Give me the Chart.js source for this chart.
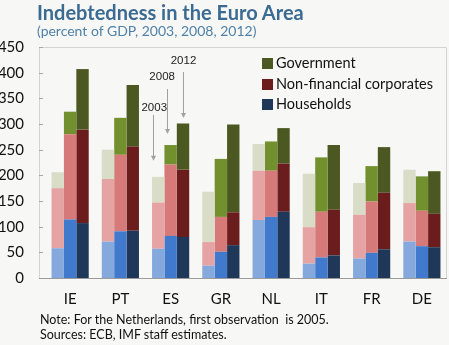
<!DOCTYPE html>
<html>
<head>
<meta charset="utf-8">
<script src="https://cdn.jsdelivr.net/npm/chart.js@4"></script>
<style>
  html, body { margin: 0; padding: 0; background: #f7f7f5; }
  #wrap { position: relative; width: 449px; height: 345px; overflow: hidden; font-family: Lato, "Liberation Sans", sans-serif; }
  #grafico { position: absolute; left: 0; top: 0; }
  .titulo { position: absolute; left: 37px; top: 0px; font-size: 20px; font-weight: bold; color: #3b6b92; white-space: nowrap; }
  .subtitulo { position: absolute; left: 37px; top: 22px; font-size: 14px; color: #4f81a8; white-space: nowrap; }
  .legenda { position: absolute; left: 262px; top: 53px; font-size: 14.5px; color: #111; }
  .legenda-item { height: 20.5px; line-height: 20px; white-space: nowrap; }
  .legenda-cor { display: inline-block; width: 11px; height: 11px; margin-right: 3px; vertical-align: -1px; }
  .nota { position: absolute; left: 40px; font-size: 12.5px; color: #111; white-space: pre; }
</style>
</head>
<body>
<div id="wrap">
  <canvas id="grafico" width="449" height="345"></canvas>
  <div class="titulo">Indebtedness in the Euro Area</div>
  <div class="subtitulo">(percent of GDP, 2003, 2008, 2012)</div>
  <div class="legenda" id="legenda"></div>
  <div class="nota" style="top:312px">Note: For the Netherlands, first observation  is 2005.</div>
  <div class="nota" style="top:327px">Sources: ECB, IMF staff estimates.</div>
</div>
<script>
// Dados
const categories = ['IE', 'PT', 'ES', 'GR', 'NL', 'IT', 'FR', 'DE'];
const years = ['2003', '2008', '2012'];
const series = ['Households', 'Non-financial corporates', 'Government'];

const hh2003 = [58, 71, 57, 24, 113, 28, 38, 71];
const nfc2003 = [117, 122, 90, 46, 96, 71, 85, 75];
const gov2003 = [31, 57, 50, 98, 52, 104, 62, 65];

const hh2008 = [114, 91, 82, 51, 119, 40, 49, 62];
const nfc2008 = [166, 149, 139, 68, 90, 89, 100, 69];
const gov2008 = [44, 72, 38, 113, 57, 106, 69, 67];

const hh2012 = [107, 92, 80, 64, 129, 44, 56, 60];
const nfc2012 = [182, 164, 131, 64, 94, 89, 110, 65];
const gov2012 = [118, 120, 90, 171, 69, 126, 89, 83];

const yTicks = [0, 50, 100, 150, 200, 250, 300, 350, 400, 450];

// cores por ano: [households, nfc, government]
const colors = {
    '2003': ['#86a9dd', '#e6a3a3', '#d9dcc7'],
    '2008': ['#4179cc', '#d57a79', '#72902d'],
    '2012': ['#1f3758', '#6b1c1c', '#4c5821']
};

const valores = {
    '2003': [hh2003, nfc2003, gov2003],
    '2008': [hh2008, nfc2008, gov2008],
    '2012': [hh2012, nfc2012, gov2012]
};

const datasets = [];
years.forEach(ano => {
    series.forEach((nome, i) => {
        datasets.push({
            label: nome + ' ' + ano,
            data: valores[ano][i],
            backgroundColor: colors[ano][i],
            stack: ano,
            borderWidth: 0,
            categoryPercentage: 0.74,
            barPercentage: 1.0
        });
    });
});

// anotacoes nas barras de ES
const setas = [
    { ano: '2003', dx: -5, gap: 16, len: 46, txtDx: 1, txtGap: 7 },
    { ano: '2008', dx: -3.5, gap: 11, len: 45, txtDx: -5, txtGap: 12 },
    { ano: '2012', dx: 0, gap: 5.5, len: 46, txtDx: 0.5, txtGap: 11.5 }
];

const molduraPlugin = {
    id: 'moldura',
    beforeDatasetsDraw(chart) {
        const ctx = chart.ctx;
        const a = chart.chartArea;
        const y = chart.scales.y;
        const left = a.left - 6;
        const right = a.right - 1;
        ctx.save();
        ctx.strokeStyle = '#d4d4d4';
        ctx.lineWidth = 1;
        ctx.beginPath();
        ctx.moveTo(left + 0.5, a.bottom);
        ctx.lineTo(left + 0.5, a.top + 0.5);
        ctx.lineTo(right + 0.5, a.top + 0.5);
        ctx.lineTo(right + 0.5, a.bottom);
        ctx.stroke();
        // tracos do eixo y
        ctx.strokeStyle = '#a8a8a8';
        yTicks.forEach(v => {
            const py = Math.round(y.getPixelForValue(v)) + 0.5;
            ctx.beginPath();
            ctx.moveTo(left, py);
            ctx.lineTo(left + 4, py);
            ctx.stroke();
        });
        // eixo x
        ctx.strokeStyle = '#9a9a9a';
        ctx.beginPath();
        ctx.moveTo(left, Math.round(a.bottom) + 0.5);
        ctx.lineTo(right + 1, Math.round(a.bottom) + 0.5);
        ctx.stroke();
        ctx.restore();
    },
    afterDatasetsDraw(chart) {
        const ctx = chart.ctx;
        const idx = categories.indexOf('ES');
        ctx.save();
        ctx.lineWidth = 1;
        setas.forEach(s => {
            const dsIndex = years.indexOf(s.ano) * 3 + 2;
            const el = chart.getDatasetMeta(dsIndex).data[idx];
            const x = Math.round(el.x + s.dx) + 0.5;
            const tip = el.y - s.gap;
            const start = tip - s.len;
            ctx.strokeStyle = '#a0a0a0';
            ctx.fillStyle = '#a0a0a0';
            ctx.beginPath();
            ctx.moveTo(x, start);
            ctx.lineTo(x, tip - 3);
            ctx.stroke();
            ctx.beginPath();
            ctx.moveTo(x - 2.5, tip - 5);
            ctx.lineTo(x + 2.5, tip - 5);
            ctx.lineTo(x, tip);
            ctx.closePath();
            ctx.fill();
            ctx.fillStyle = '#222';
            ctx.font = '11.5px "Liberation Sans", sans-serif';
            ctx.textAlign = 'center';
            ctx.textBaseline = 'middle';
            ctx.fillText(s.ano, el.x + s.dx + s.txtDx, start - s.txtGap);
        });
        ctx.restore();
    }
};

const ctx = document.getElementById('grafico').getContext('2d');
const myChart = new Chart(ctx, {
    type: 'bar',
    data: { labels: categories, datasets: datasets },
    options: {
        responsive: false,
        animation: false,
        layout: { padding: { top: 47, right: 2, bottom: 32, left: 0 } },
        plugins: {
            legend: { display: false },
            tooltip: { enabled: false }
        },
        scales: {
            x: {
                stacked: true,
                grid: { display: false, drawTicks: false },
                border: { display: false },
                ticks: { color: '#111', font: { family: 'Lato', size: 15 }, padding: 12 },
                afterFit(scale) { scale.height = 35; }
            },
            y: {
                stacked: true,
                min: 0,
                max: 450,
                afterBuildTicks(scale) { scale.ticks = yTicks.map(v => ({ value: v })); },
                grid: { display: false, drawTicks: false },
                border: { display: false },
                ticks: { color: '#111', font: { family: 'Lato', size: 15 }, padding: 21 },
                afterFit(scale) { scale.width = 45; }
            }
        }
    },
    plugins: [molduraPlugin]
});

// Legenda
const legenda = document.getElementById('legenda');
[2, 1, 0].forEach(i => {
    const item = document.createElement('div');
    item.className = 'legenda-item';
    const cor = document.createElement('span');
    cor.className = 'legenda-cor';
    cor.style.backgroundColor = colors['2012'][i];
    const nome = document.createElement('span');
    nome.textContent = series[i];
    item.appendChild(cor);
    item.appendChild(nome);
    legenda.appendChild(item);
});
</script>
</body>
</html>
